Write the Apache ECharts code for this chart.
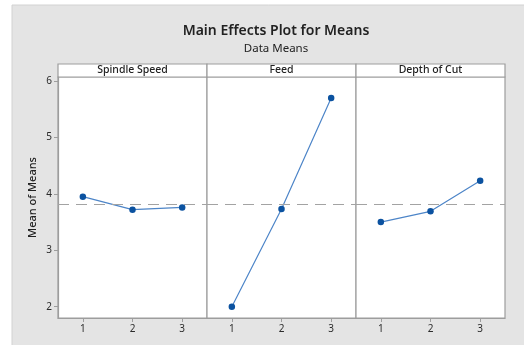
<!DOCTYPE html>
<html><head><meta charset="utf-8">
<script src="https://cdn.jsdelivr.net/npm/echarts@6/dist/echarts.min.js"></script>
<style>html,body{margin:0;padding:0;background:#fff}#c{width:524px;height:345px}</style>
</head><body><div id="c"></div>
<script>
const panelNames = ['Spindle Speed', 'Feed', 'Depth of Cut'];
const levels = ['1', '2', '3'];
const spindleMeans = [3.95, 3.72, 3.76];
const feedMeans = [2.00, 3.73, 5.70];
const depthMeans = [3.50, 3.69, 4.23];
const overallMean = 3.81;
const yTicks = [2, 3, 4, 5, 6];

const seriesData = [spindleMeans, feedMeans, depthMeans];
const L = 58, W = 149, T = 77, H = 241, STRIP = 13;
const font = 'Noto Sans';
const chart = echarts.init(document.getElementById('c'));
const grids = [], xAxes = [], yAxes = [], series = [], graphics = [];
graphics.push({type:'rect', shape:{x:12, y:5, width:520, height:345}, style:{fill:'#e4e4e4', stroke:'#d2d2d2', lineWidth:1}, z:-10});
panelNames.forEach((name, i) => {
  grids.push({left: L + i*W, top: T, width: W, height: H, show: true, backgroundColor:'#fff', borderColor:'#9d9d9d', borderWidth:1.2});
  xAxes.push({type:'category', gridIndex:i, data: levels, boundaryGap:true,
    axisLine:{show:true, lineStyle:{color:'#9d9d9d', width:1.2}},
    axisTick:{show:true, alignWithLabel:true, length:4, lineStyle:{color:'#9d9d9d'}},
    axisLabel:{color:'#2b2b2b', fontSize:10, fontFamily:font, margin:6}, splitLine:{show:false}});
  yAxes.push({type:'value', gridIndex:i, min:1.8, max:6.07,
    name: i===0 ? 'Mean of Means' : '', nameLocation:'middle', nameGap:20,
    nameTextStyle:{color:'#222', fontSize:11, fontWeight:500, fontFamily:font},
    axisLine:{show:i===0, lineStyle:{color:'#9d9d9d', width:1.2}},
    axisTick:{show:i===0, length:4, customValues: yTicks, lineStyle:{color:'#9d9d9d'}},
    axisLabel:{show:i===0, customValues: yTicks, color:'#2b2b2b', fontSize:10, fontFamily:font, margin:6},
    splitLine:{show:false}});
  series.push({type:'line', xAxisIndex:i, yAxisIndex:i, data: seriesData[i],
    symbol:'circle', symbolSize:6.5, itemStyle:{color:'#0b52a0'}, lineStyle:{color:'#4d85c8', width:1.2},
    animation:false,
    markLine:{silent:true, symbol:'none', label:{show:false},
      lineStyle:{color:'#a3a3a3', type:[11,7], width:1.2}, data:[{yAxis: overallMean}]}});
  graphics.push({type:'rect', shape:{x: L + i*W, y: T - STRIP, width: W, height: STRIP},
    style:{fill:'#fff', stroke:'#9d9d9d', lineWidth:1.2}});
  graphics.push({type:'text', x: L + i*W + W/2, y: T - STRIP/2,
    style:{text:name, fill:'#222', font:'500 10.5px "Noto Sans"', align:'center', verticalAlign:'middle'}});
});
chart.setOption({
  animation:false,
  backgroundColor:'#fff',
  title:[{text:'Main Effects Plot for Means', left:271, top:19, textAlign:'center',
    textStyle:{fontSize:14, fontWeight:600, color:'#222', fontFamily:font}},
    {text:'Data Means', left:271, top:38, textAlign:'center',
    textStyle:{fontSize:11.5, fontWeight:'normal', color:'#222', fontFamily:font}}],
  grid: grids, xAxis: xAxes, yAxis: yAxes, series: series, graphic: graphics
});
</script></body></html>
